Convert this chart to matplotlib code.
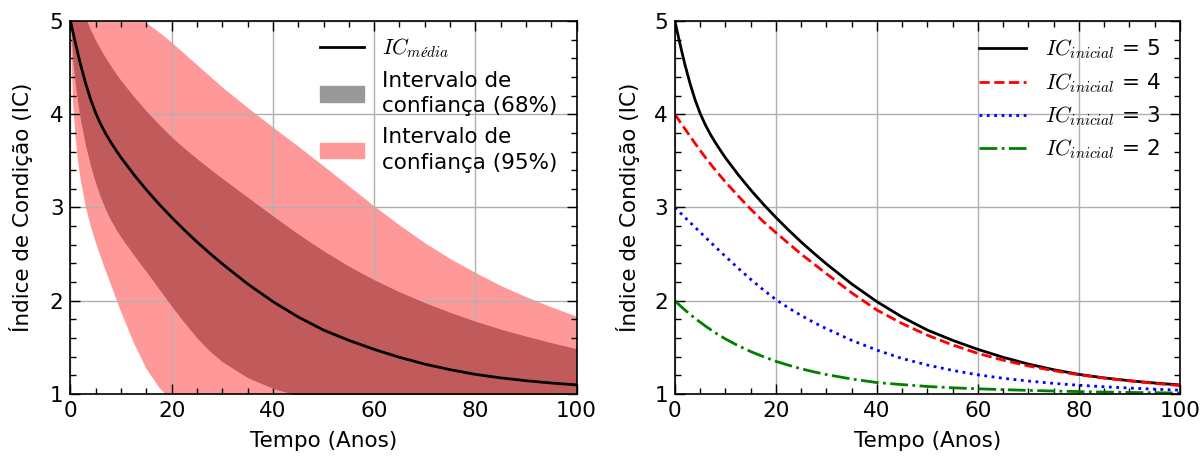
import numpy as np
import matplotlib
matplotlib.use("Agg")
import matplotlib.pyplot as plt
from matplotlib.lines import Line2D
from matplotlib.patches import Patch
from matplotlib.ticker import MultipleLocator

plt.rcParams['font.family'] = ['DejaVu Sans']
plt.rcParams['mathtext.fontset'] = 'cm'
plt.rcParams['font.size'] = 15.5

# Tempo (anos)
tempo = [0, 0.5, 1, 1.5, 2, 3, 4, 5, 6, 7, 8, 9, 10, 12.5, 15, 17.5, 20, 22.5, 25, 27.5,
         30, 35, 40, 45, 50, 55, 60, 65, 70, 75, 80, 85, 90, 95, 100]

# Painel esquerdo: IC medio e intervalos de confianca
ic_media = [5.0, 4.878, 4.758, 4.642, 4.53, 4.33, 4.155, 4.01, 3.89, 3.787, 3.697, 3.614,
            3.534, 3.354, 3.189, 3.036, 2.893, 2.758, 2.63, 2.51, 2.395, 2.18, 1.99, 1.825,
            1.685, 1.575, 1.478, 1.393, 1.32, 1.26, 1.21, 1.172, 1.142, 1.117, 1.097]
ic68_sup = [5.0, 5.20, 5.28, 5.24, 5.17, 5.03, 4.90, 4.79, 4.69, 4.60, 4.515, 4.435, 4.36,
            4.19, 4.035, 3.89, 3.755, 3.635, 3.523, 3.416, 3.312, 3.11, 2.91, 2.715, 2.535,
            2.37, 2.225, 2.095, 1.98, 1.875, 1.78, 1.695, 1.62, 1.55, 1.485]
ic68_inf = [5.0, 4.55, 4.30, 4.10, 3.93, 3.66, 3.44, 3.255, 3.10, 2.97, 2.86, 2.765, 2.68,
            2.49, 2.31, 2.125, 1.94, 1.765, 1.60, 1.46, 1.345, 1.175, 1.06, 0.98, 0.92, 0.87,
            0.83, 0.80, 0.78, 0.76, 0.75, 0.74, 0.73, 0.72, 0.72]
ic95_sup = [5.0, 5.03, 5.06, 5.09, 5.12, 5.16, 5.19, 5.20, 5.21, 5.21, 5.20, 5.19, 5.17,
            5.08, 4.98, 4.88, 4.77, 4.65, 4.53, 4.41, 4.29, 4.07, 3.86, 3.655, 3.445, 3.23,
            3.015, 2.81, 2.62, 2.45, 2.30, 2.16, 2.04, 1.93, 1.83]
ic95_inf = [5.0, 4.12, 3.75, 3.49, 3.30, 3.01, 2.80, 2.625, 2.465, 2.315, 2.17, 2.025, 1.88,
            1.55, 1.27, 1.07, 0.92, 0.80, 0.70, 0.62, 0.55, 0.45, 0.40, 0.36, 0.33, 0.31,
            0.30, 0.30, 0.30, 0.30, 0.30, 0.30, 0.30, 0.30, 0.30]

# Painel direito: IC inicial diferente
ic_ini5 = [5.0, 4.878, 4.758, 4.642, 4.53, 4.33, 4.155, 4.01, 3.89, 3.787, 3.697, 3.614,
           3.534, 3.354, 3.189, 3.036, 2.893, 2.758, 2.63, 2.51, 2.395, 2.18, 1.99, 1.825,
           1.685, 1.575, 1.478, 1.393, 1.32, 1.26, 1.21, 1.172, 1.142, 1.117, 1.097]
ic_ini4 = [4.0, 3.96, 3.92, 3.881, 3.842, 3.764, 3.687, 3.612, 3.54, 3.47, 3.403, 3.338,
           3.275, 3.125, 2.983, 2.849, 2.73, 2.615, 2.50, 2.395, 2.29, 2.085, 1.90, 1.755,
           1.63, 1.525, 1.435, 1.362, 1.30, 1.25, 1.205, 1.17, 1.14, 1.113, 1.09]
ic_ini3 = [3.0, 2.973, 2.946, 2.92, 2.893, 2.84, 2.787, 2.735, 2.682, 2.63, 2.578, 2.527,
           2.476, 2.35, 2.23, 2.117, 2.012, 1.922, 1.842, 1.767, 1.70, 1.575, 1.47, 1.38,
           1.31, 1.252, 1.205, 1.168, 1.138, 1.113, 1.093, 1.077, 1.063, 1.051, 1.04]
ic_ini2 = [2.0, 1.974, 1.949, 1.924, 1.90, 1.854, 1.81, 1.77, 1.73, 1.692, 1.656, 1.623,
           1.59, 1.518, 1.455, 1.40, 1.35, 1.308, 1.27, 1.237, 1.208, 1.16, 1.122, 1.10,
           1.08, 1.066, 1.055, 1.046, 1.038, 1.031, 1.025, 1.02, 1.016, 1.013, 1.01]

fig = plt.figure(figsize=(12.03, 4.57), dpi=100)
ax1 = fig.add_axes([0.0586, 0.138, 0.4207, 0.816])
ax2 = fig.add_axes([0.561, 0.138, 0.4198, 0.816])


def estilo(ax, pad):
    ax.set_xlim(0, 100)
    ax.set_ylim(1, 5)
    ax.xaxis.set_major_locator(MultipleLocator(20))
    ax.xaxis.set_minor_locator(MultipleLocator(5))
    ax.yaxis.set_major_locator(MultipleLocator(1))
    ax.yaxis.set_minor_locator(MultipleLocator(0.2))
    ax.tick_params(which='both', direction='in', top=True, right=True, labelsize=15.5)
    ax.tick_params(which='major', length=7, width=1, pad=5)
    ax.tick_params(which='minor', length=4, width=1)
    ax.grid(True, which='major', color='#b0b0b0', linewidth=1)
    for s in ax.spines.values():
        s.set_linewidth(1.2)
    ax.set_xlabel("Tempo (Anos)", labelpad=7)
    ax.set_ylabel("Índice de Condição (IC)", labelpad=pad)


# Plot 1 - intervalos de confianca
ax1.fill_between(tempo, ic95_inf, ic95_sup, color='#ff9999', linewidth=0, zorder=1)
ax1.fill_between(tempo, ic68_inf, ic68_sup, color='#c15b5b', linewidth=0, zorder=2)
ax1.plot(tempo, ic_media, color='k', linewidth=2, zorder=4)
estilo(ax1, 12)

handles = [Line2D([], [], color='k', linewidth=2),
           Patch(color='#999999'),
           Patch(color='#ff9999')]
labels = [r"$IC_{média}$", "Intervalo de\nconfiança (68%)", "Intervalo de\nconfiança (95%)"]
leg = ax1.legend(handles, labels, loc='upper right', frameon=False, fontsize=15.5,
                 handlelength=2.0, handletextpad=0.85, labelspacing=0.5,
                 bbox_to_anchor=(1.0, 1.011))
for t in leg.get_texts():
    t.set_linespacing(1.35)

# Plot 2 - IC inicial
ax2.plot(tempo, ic_ini5, color='k', linestyle='-', linewidth=2, label=r"$IC_{inicial}$ = 5")
ax2.plot(tempo, ic_ini4, color='red', linestyle='--', linewidth=2, label=r"$IC_{inicial}$ = 4")
ax2.plot(tempo, ic_ini3, color='blue', linestyle=':', linewidth=2, label=r"$IC_{inicial}$ = 3")
ax2.plot(tempo, ic_ini2, color='green', linestyle='-.', linewidth=2, label=r"$IC_{inicial}$ = 2")
estilo(ax2, 10)
ax2.legend(loc='upper right', frameon=False, fontsize=15.5, handlelength=2.2,
           handletextpad=0.85, labelspacing=0.45, bbox_to_anchor=(1.0, 1.007))

fig.savefig("out.png", dpi=100)
